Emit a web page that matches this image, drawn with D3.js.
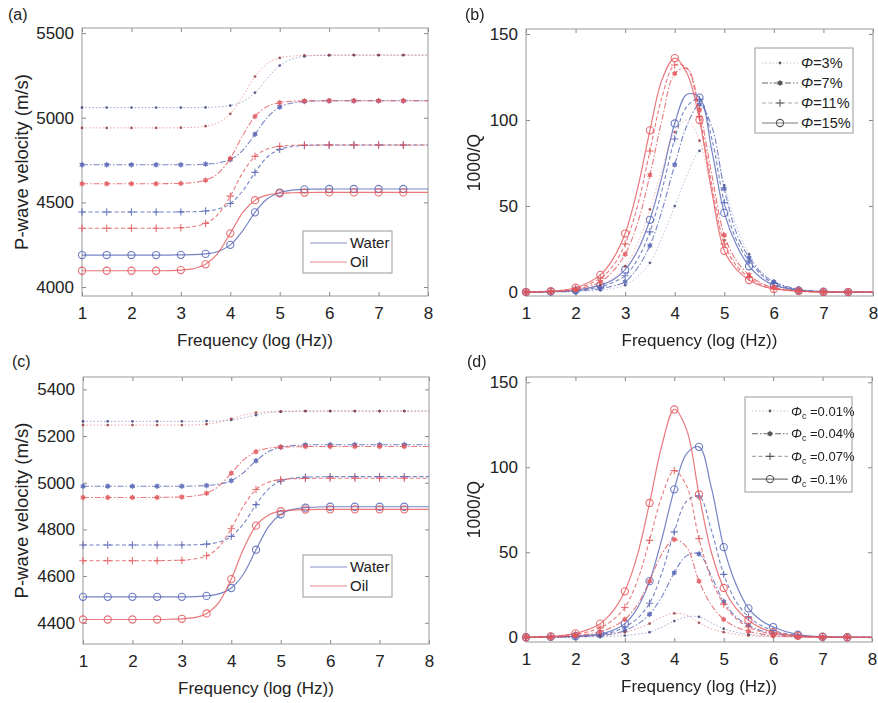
<!DOCTYPE html>
<html>
<head>
<meta charset="utf-8">
<script src="https://cdn.jsdelivr.net/npm/d3@7"></script>
<style>
  body { margin: 0; background: #fff; }
  svg text { font-family: "Liberation Sans", Arial, sans-serif; fill: #222; }
</style>
</head>
<body>
<svg width="878" height="703"></svg>
<script>
// frequency grid, log10(Hz)
const freq = [1, 1.5, 2, 2.5, 2.75, 3, 3.25, 3.5, 3.75, 4, 4.25, 4.5, 4.75, 5, 5.25, 5.5, 5.75, 6, 6.5, 7, 7.5, 8];

// (a) P-wave velocity (m/s), porosity 3 / 7 / 11 / 15 %
const aWater3  = [5060,5060,5060,5060,5060,5060,5060,5061,5064,5072,5095,5148,5232,5308,5347,5362,5368,5369,5370,5370,5370,5370];
const aWater7  = [4722,4722,4722,4722,4722,4722,4722,4726,4733,4753,4807,4902,5002,5063,5087,5096,5099,5100,5100,5100,5100,5100];
const aWater11 = [4443,4443,4443,4443,4443,4444,4445,4449,4460,4493,4567,4677,4768,4813,4830,4836,4838,4839,4839,4839,4839,4839];
const aWater15 = [4189,4189,4189,4189,4189,4190,4191,4196,4210,4249,4332,4441,4521,4558,4572,4577,4578,4579,4579,4579,4579,4579];
const aOil3    = [4940,4940,4940,4940,4940,4941,4943,4950,4970,5023,5126,5243,5320,5353,5364,5368,5369,5370,5370,5370,5370,5370];
const aOil7    = [4610,4610,4610,4610,4611,4612,4617,4631,4670,4759,4894,5008,5067,5089,5097,5099,5100,5100,5100,5100,5100,5100];
const aOil11   = [4347,4347,4347,4347,4348,4350,4357,4376,4429,4537,4675,4772,4815,4831,4837,4839,4839,4839,4839,4839,4839,4839];
const aOil15   = [4096,4096,4096,4096,4097,4100,4109,4134,4200,4317,4439,4513,4543,4554,4557,4558,4559,4559,4559,4559,4559,4559];

// (b) 1000/Q, porosity 3 / 7 / 11 / 15 %
const bWater3  = [0,0,0.3,1,2,4,9,17,32,50,68,82,84,62,38,22,12,6,1.5,0.3,0,0];
const bWater7  = [0,0.1,0.5,2,3.5,6,14,27,48,74,97,109,96,60,34,20,11,6,1.5,0.3,0,0];
const bWater11 = [0,0.2,0.8,3,5.5,9.5,19,35,60,89,108,112,89,52,30,18,10,5,1.3,0.3,0,0];
const bWater15 = [0,0.3,1,4,7,13,24,42,68,98,115,113,82,46,27,15,8,4,1,0.2,0,0];
const bOil3    = [0,0.2,1,4,8,15,28,48,72,93,100,88,58,30,16,9,5,2.5,0.6,0.1,0,0];
const bOil7    = [0,0.3,1.5,6,12,22,40,68,101,127,130,106,68,33,18,10,5,2.5,0.6,0,0,0];
const bOil11   = [0,0.4,2,8,15,28,50,82,114,132,130,102,62,28,15,8.5,4,2,0.5,0,0,0];
const bOil15   = [0,0.5,2.5,10,19,34,60,94,124,136,127,100,58,24,13,7,3.5,1.8,0.5,0,0,0];

// (c) P-wave velocity (m/s), crack porosity 0.01 / 0.04 / 0.07 / 0.1 %
const cWater001 = [5263,5263,5263,5263,5263,5263,5263,5264,5265,5269,5278,5290,5300,5304,5306,5307,5307,5307,5307,5307,5307,5307];
const cWater004 = [4985,4985,4985,4985,4985,4985,4986,4988,4994,5009,5044,5094,5133,5152,5159,5162,5163,5163,5163,5163,5163,5163];
const cWater007 = [4733,4733,4733,4733,4733,4733,4734,4737,4746,4770,4825,4906,4973,5007,5020,5024,5025,5026,5026,5026,5026,5026];
const cWater01  = [4511,4511,4511,4511,4511,4511,4512,4515,4524,4549,4610,4713,4811,4865,4886,4893,4896,4897,4897,4897,4897,4897];
const cOil001   = [5247,5247,5247,5247,5247,5247,5248,5251,5259,5274,5290,5300,5305,5306,5307,5307,5307,5307,5307,5307,5307,5307];
const cOil004   = [4937,4937,4937,4937,4938,4939,4943,4955,4986,5041,5098,5133,5148,5153,5154,5155,5155,5155,5155,5155,5155,5155];
const cOil007   = [4666,4666,4666,4666,4667,4668,4673,4687,4725,4803,4901,4971,5002,5013,5017,5018,5019,5019,5019,5019,5019,5019];
const cOil01    = [4414,4414,4414,4414,4415,4417,4422,4440,4487,4587,4718,4816,4861,4878,4883,4885,4886,4886,4886,4886,4886,4886];

// (d) 1000/Q, crack porosity 0.01 / 0.04 / 0.07 / 0.1 %
const dWater001 = [0,0,0.1,0.3,0.6,1,1.8,3,6,9.5,12,12,8.5,5,3,1.7,1,0.6,0.2,0,0,0];
const dWater004 = [0,0.1,0.3,1,2,4,7.5,13.5,24,38,48,49,36,21,12,7,4,2.3,0.6,0.1,0,0];
const dWater007 = [0,0.1,0.4,1.5,3,6,11,20,38,62,80,83,63,37,21,12,7,4,1,0.2,0,0];
const dWater01  = [0,0.2,0.6,2,4,8,17,33,58,87,108,112,88,53,31,17,10,6,1.5,0.3,0,0];
const dOil001   = [0,0,0.3,1,1.7,3,5,8,12,14,13,8.5,5,3,1.7,1,0.5,0.3,0,0,0,0];
const dOil004   = [0,0.2,1,3.2,6,10.5,19,33,49,57.5,53,33,19,10.5,6,3.5,2,1,0.3,0,0,0];
const dOil007   = [0,0.4,1.6,5.5,10,17.5,33,57,83,98,89,58,34,19.5,11,6,3.3,1.8,0.5,0.1,0,0];
const dOil01    = [0,0.5,2.3,8,15,27,48,79,113,134,122,84,50,29,17,10,5.5,3,0.8,0.2,0,0];

const xTicks = [1, 2, 3, 4, 5, 6, 7, 8];
const yTicksA = [4000, 4500, 5000, 5500];
const yTicksB = [0, 50, 100, 150];
const yTicksC = [4400, 4600, 4800, 5000, 5200, 5400];
const yTicksD = [0, 50, 100, 150];
const fluidLabels = ["Water", "Oil"];
const porosityLabels = ["=3%", "=7%", "=11%", "=15%"];
const crackLabels = ["=0.01%", "=0.04%", "=0.07%", "=0.1%"];

const blue = "#5565b5", red = "#e2585c";
const dashes = ["1.5,2", "6,2,1.5,2", "4,2.5", null];
const widths = [1, 1.1, 1.1, 1.2];
const legendGrays = ["#c4c4c4", "#666", "#aaa", "#7a7a7a"];

const svg = d3.select("svg");

function drawMarker(g, kind, cx, cy, color) {
  if (kind === 0) {
    g.append("circle").attr("cx", cx).attr("cy", cy).attr("r", 1.4)
      .attr("fill", d3.color(color).darker(1.2));
  } else if (kind === 1) {
    g.append("circle").attr("cx", cx).attr("cy", cy).attr("r", 2.2).attr("fill", color);
    g.append("path").attr("d", d3.symbol(d3.symbolAsterisk || d3.symbolCross, 22)())
      .attr("transform", `translate(${cx},${cy})`)
      .attr("fill", "none").attr("stroke", color).attr("stroke-width", 1);
  } else if (kind === 2) {
    g.append("path").attr("d", d3.symbol(d3.symbolPlus || d3.symbolCross, 20)())
      .attr("transform", `translate(${cx},${cy})`)
      .attr("fill", "none").attr("stroke", color).attr("stroke-width", 1.1);
  } else {
    g.append("circle").attr("cx", cx).attr("cy", cy).attr("r", 3.6)
      .attr("fill", "none").attr("stroke", color).attr("stroke-width", 1.1);
  }
}

function styleAxis(a, labels) {
  a.select(".domain").remove();
  a.selectAll(".tick line").attr("stroke", "#888");
  a.selectAll(".tick text").style("font-size", "17px").attr("fill", "#222");
  if (!labels) a.selectAll(".tick text").remove();
}

function panel(o) {
  const x = d3.scaleLinear().domain([1, 8]).range([o.left, o.right]);
  const y = d3.scaleLinear().domain(o.yDomain).range([o.bottom, o.top]);
  const fmt = d3.format("d");
  const g = svg.append("g");

  g.append("g").attr("transform", `translate(0,${o.bottom})`)
    .call(d3.axisBottom(x).tickValues(xTicks).tickFormat(fmt).tickSize(-4).tickSizeOuter(0).tickPadding(11))
    .call(a => styleAxis(a, true));
  g.append("g").attr("transform", `translate(0,${o.top})`)
    .call(d3.axisTop(x).tickValues(xTicks).tickSize(-4).tickSizeOuter(0))
    .call(a => styleAxis(a, false));
  g.append("g").attr("transform", `translate(${o.left},0)`)
    .call(d3.axisLeft(y).tickValues(o.yTicks).tickFormat(fmt).tickSize(-4).tickSizeOuter(0).tickPadding(8))
    .call(a => styleAxis(a, true));
  g.append("g").attr("transform", `translate(${o.right},0)`)
    .call(d3.axisRight(y).tickValues(o.yTicks).tickSize(-4).tickSizeOuter(0))
    .call(a => styleAxis(a, false));

  g.append("rect").attr("x", o.left).attr("y", o.top)
    .attr("width", o.right - o.left).attr("height", o.bottom - o.top)
    .attr("fill", "none").attr("stroke", "#999").attr("stroke-width", 1);

  const line = d3.line().x((d, i) => x(freq[i])).y(d => y(d)).curve(o.curve);
  [o.water, o.oil].forEach((set, f) => {
    const col = f ? red : blue;
    set.forEach((vals, k) => {
      g.append("path").attr("d", line(vals)).attr("fill", "none")
        .attr("stroke", col).attr("stroke-width", widths[k])
        .attr("stroke-dasharray", dashes[k])
        .attr("opacity", k === 0 ? o.faint : 0.8);
      const mg = g.append("g").attr("opacity", k === 0 ? 0.8 : 0.85);
      freq.forEach((fq, i) => {
        if (fq < 8 && Number.isInteger(fq * 2)) drawMarker(mg, k, x(fq), y(vals[i]), col);
      });
    });
  });

  g.append("text").attr("x", o.tagX).attr("y", o.tagY).style("font-size", "16px").text(o.tag);
  g.append("text").attr("x", (o.left + o.right) / 2).attr("y", o.bottom + 50)
    .attr("text-anchor", "middle").style("font-size", "17px").text("Frequency (log (Hz))");
  g.append("text").attr("transform", `translate(${o.ytX},${(o.top + o.bottom) / 2}) rotate(-90)`)
    .attr("text-anchor", "middle").attr("dy", "0.35em").style("font-size", o.ytSize)
    .text(o.yTitle);

  if (o.legend === "fluid") {
    const lg = g.append("g").attr("transform", `translate(${o.lx},${o.ly})`);
    lg.append("rect").attr("width", 89).attr("height", 42).attr("fill", "#fff")
      .attr("stroke", "#999");
    fluidLabels.forEach((lab, i) => {
      const yy = 12 + i * 19;
      lg.append("line").attr("x1", 7).attr("x2", 44).attr("y1", yy).attr("y2", yy)
        .attr("stroke", i ? red : blue).attr("stroke-width", 1).attr("opacity", 0.7);
      lg.append("text").attr("x", 47).attr("y", yy).attr("dy", "0.35em")
        .style("font-size", "15px").text(lab);
    });
  } else {
    const lg = g.append("g").attr("transform", `translate(${o.lx},${o.ly})`);
    lg.append("rect").attr("width", o.lw).attr("height", o.lh).attr("fill", "#fff")
      .attr("stroke", "#999");
    o.labels.forEach((lab, k) => {
      const yy = o.l0 + k * o.lstep;
      lg.append("line").attr("x1", 7).attr("x2", 43).attr("y1", yy).attr("y2", yy)
        .attr("stroke", legendGrays[k]).attr("stroke-width", widths[k])
        .attr("stroke-dasharray", dashes[k]);
      drawMarker(lg, k, 25, yy, k === 0 ? "#888" : "#555");
      const t = lg.append("text").attr("x", 46).attr("y", yy).attr("dy", "0.35em")
        .style("font-size", o.lsize);
      t.append("tspan").style("font-style", "italic").text("Φ");
      if (o.sub) {
        t.append("tspan").attr("dy", 3).style("font-size", "9px").text("c");
        t.append("tspan").attr("dy", -3).text(" " + lab);
      } else {
        t.append("tspan").text(lab);
      }
    });
  }
}

panel({
  tag: "(a)", tagX: 8, tagY: 20, left: 82, right: 428, top: 28, bottom: 296,
  yDomain: [3947, 5530], yTicks: yTicksA, yTitle: "P-wave velocity (m/s)", ytX: 22, ytSize: "18.5px",
  water: [aWater3, aWater7, aWater11, aWater15], oil: [aOil3, aOil7, aOil11, aOil15],
  curve: d3.curveMonotoneX, faint: 0.55, legend: "fluid", lx: 303, ly: 231
});
panel({
  tag: "(b)", tagX: 465, tagY: 20, left: 526, right: 873, top: 29, bottom: 296,
  yDomain: [-2.3, 152.9], yTicks: yTicksB, yTitle: "1000/Q", ytX: 474, ytSize: "17.5px",
  water: [bWater3, bWater7, bWater11, bWater15], oil: [bOil3, bOil7, bOil11, bOil15],
  curve: d3.curveCatmullRom, faint: 0.4, legend: "phi", lx: 755, ly: 48, lw: 98, lh: 85,
  l0: 15, lstep: 20, labels: porosityLabels, lsize: "14.5px", sub: false
});
panel({
  tag: "(c)", tagX: 12, tagY: 367, left: 83, right: 429, top: 377, bottom: 644,
  yDomain: [4309, 5453], yTicks: yTicksC, yTitle: "P-wave velocity (m/s)", ytX: 22, ytSize: "18.5px",
  water: [cWater001, cWater004, cWater007, cWater01], oil: [cOil001, cOil004, cOil007, cOil01],
  curve: d3.curveMonotoneX, faint: 0.55, legend: "fluid", lx: 303, ly: 555
});
panel({
  tag: "(d)", tagX: 467, tagY: 367, left: 526, right: 872, top: 377, bottom: 642,
  yDomain: [-2.8, 153.1], yTicks: yTicksD, yTitle: "1000/Q", ytX: 474, ytSize: "17.5px",
  water: [dWater001, dWater004, dWater007, dWater01], oil: [dOil001, dOil004, dOil007, dOil01],
  curve: d3.curveCatmullRom, faint: 0.55, legend: "phi", lx: 745, ly: 397, lw: 107, lh: 95,
  l0: 14, lstep: 22.7, labels: crackLabels, lsize: "13px", sub: true
});
</script>
</body>
</html>
